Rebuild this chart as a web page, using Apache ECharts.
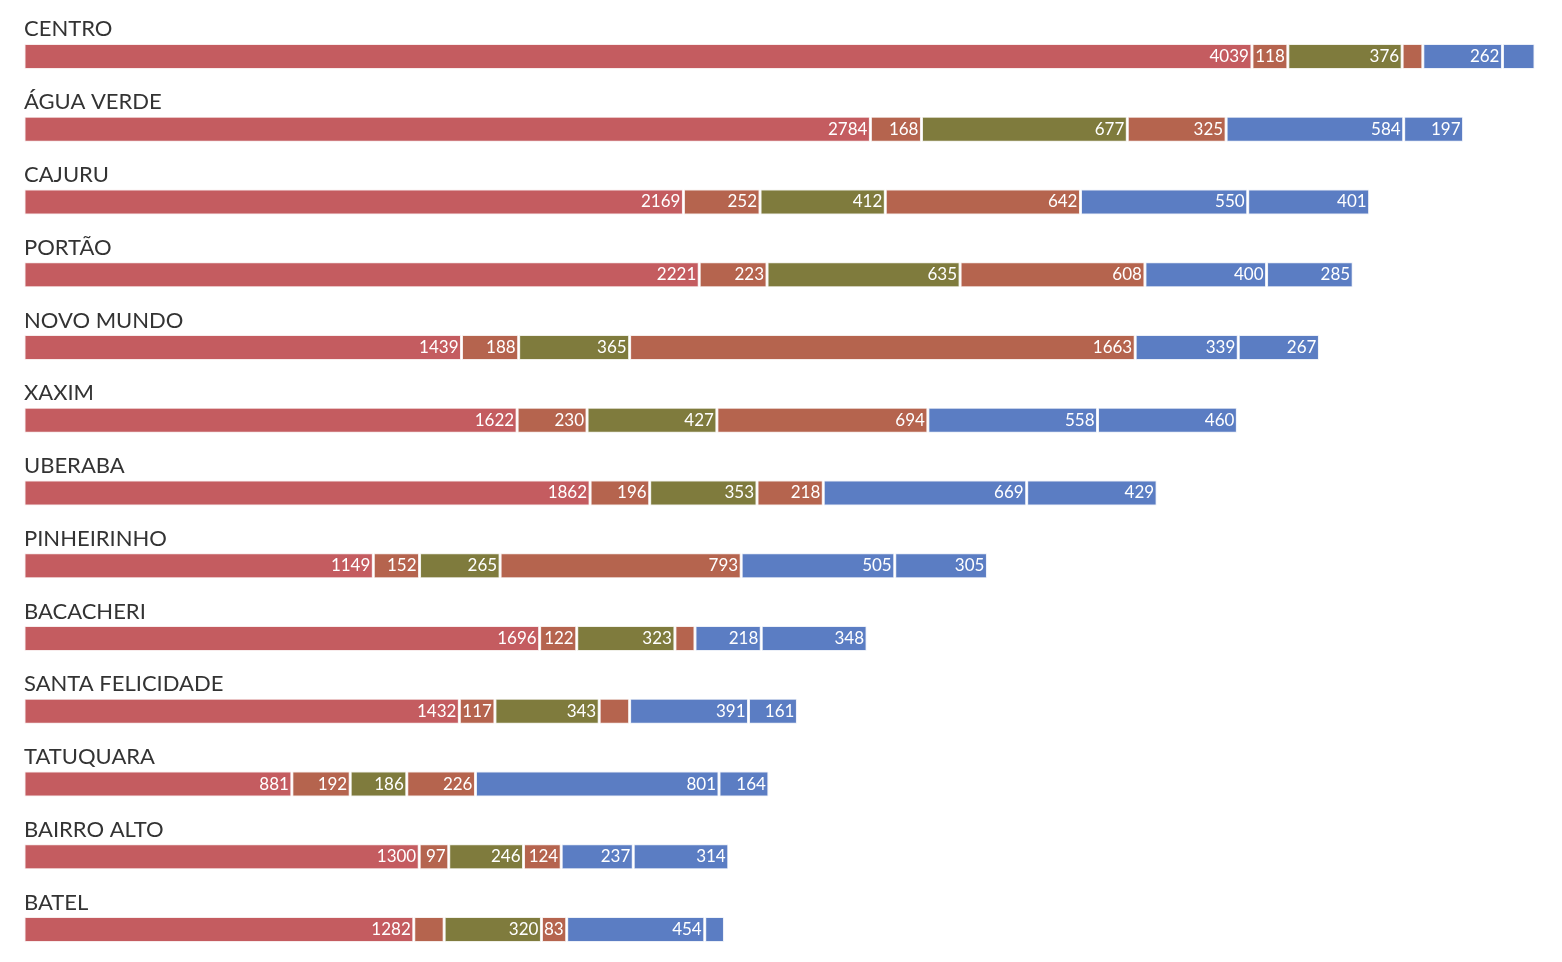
<!DOCTYPE html>
<html>
<head>
<meta charset="utf-8">
<script src="https://cdn.jsdelivr.net/npm/echarts@6/dist/echarts.min.js"></script>
<style>
  html, body { margin: 0; padding: 0; background: #fff; overflow: hidden; }
  #chart { width: 1562px; height: 980px; }
</style>
</head>
<body>
<div id="chart"></div>
<script>
var bairros = ['CENTRO', 'ÁGUA VERDE', 'CAJURU', 'PORTÃO', 'NOVO MUNDO', 'XAXIM', 'UBERABA',
  'PINHEIRINHO', 'BACACHERI', 'SANTA FELICIDADE', 'TATUQUARA', 'BAIRRO ALTO', 'BATEL'];

// seis faixas empilhadas por bairro
var faixa1 = [4039, 2784, 2169, 2221, 1439, 1622, 1862, 1149, 1696, 1432, 881, 1300, 1282];
var faixa2 = [118, 168, 252, 223, 188, 230, 196, 152, 122, 117, 192, 97, 100];
var faixa3 = [376, 677, 412, 635, 365, 427, 353, 265, 323, 343, 186, 246, 320];
var faixa4 = [68, 325, 642, 608, 1663, 694, 218, 793, 66, 100, 226, 124, 83];
var faixa5 = [262, 584, 550, 400, 339, 558, 669, 505, 218, 391, 801, 237, 454];
var faixa6 = [107, 197, 401, 285, 267, 460, 429, 305, 348, 161, 164, 314, 65];

// segmentos sem rótulo no original: [faixa, bairro]
var semRotulo = [[3, 0], [5, 0], [3, 8], [3, 9], [1, 12], [5, 12]];

var cores = ['#c45c60', '#b5644e', '#7f7b3d', '#b5644e', '#5b7dc3', '#5b7dc3'];
var faixas = [faixa1, faixa2, faixa3, faixa4, faixa5, faixa6];

function temRotulo(s, i) {
  for (var k = 0; k < semRotulo.length; k++) {
    if (semRotulo[k][0] === s && semRotulo[k][1] === i) return false;
  }
  return true;
}

var series = faixas.map(function (valores, s) {
  return {
    name: 'faixa' + (s + 1),
    type: 'bar',
    stack: 'total',
    barWidth: 26,
    itemStyle: {
      color: cores[s],
      borderColor: 'rgba(255,255,255,0.85)',
      borderWidth: 1.5
    },
    label: {
      show: true,
      position: 'insideRight',
      distance: 3,
      color: '#fff',
      fontFamily: 'Lato',
      fontSize: 17,
      textBorderColor: cores[s],
      textBorderWidth: 2,
      formatter: function (p) {
        return temRotulo(s, p.dataIndex) ? String(p.value) : '';
      }
    },
    emphasis: { disabled: true },
    data: valores
  };
});

var chart = echarts.init(document.getElementById('chart'));
chart.setOption({
  animation: false,
  grid: { left: 24, right: 27, top: 20, height: 946, containLabel: false },
  xAxis: {
    type: 'value',
    min: 0,
    max: 4970,
    show: false
  },
  yAxis: {
    type: 'category',
    inverse: true,
    data: bairros,
    axisLine: { show: false },
    axisTick: { show: false },
    splitLine: { show: false },
    axisLabel: {
      inside: true,
      margin: 0,
      verticalAlign: 'bottom',
      padding: [0, 0, 16, 0],
      color: '#333',
      fontFamily: 'Lato',
      fontSize: 22
    },
    z: 10
  },
  series: series
});
</script>
</body>
</html>
